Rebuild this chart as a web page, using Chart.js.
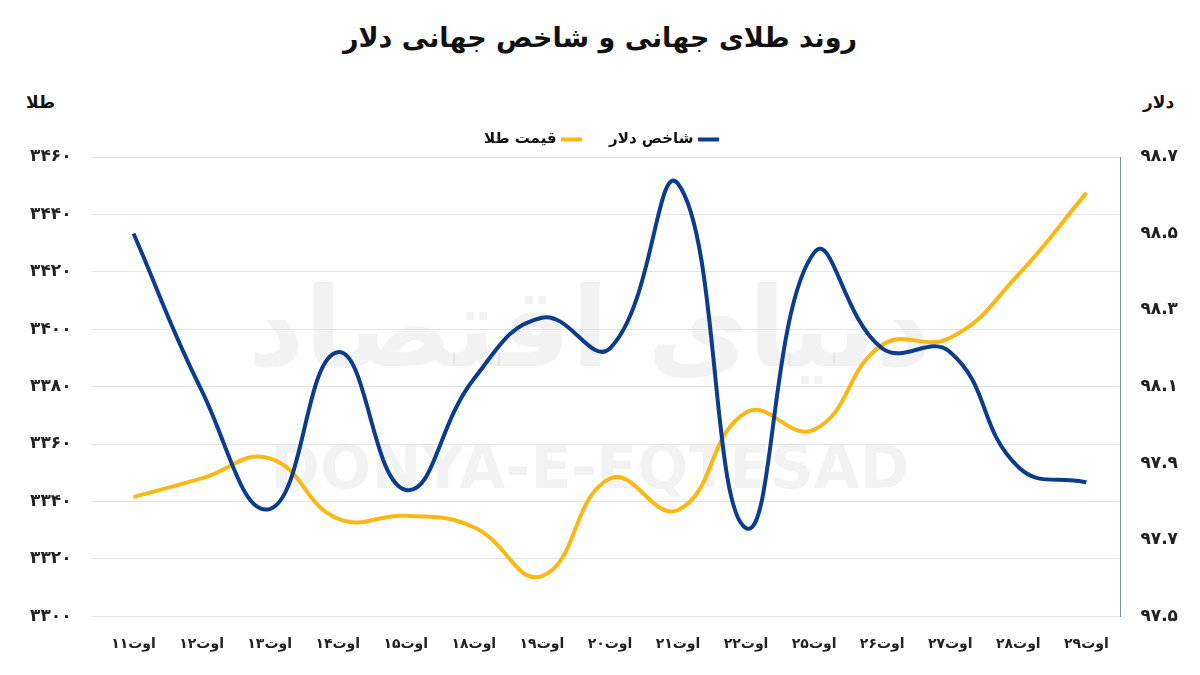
<!DOCTYPE html>
<html>
<head>
<meta charset="utf-8">
<script src="https://cdn.jsdelivr.net/npm/chart.js@4"></script>
<style>
  body { margin: 0; background: #fff; }
  #wrap { width: 1200px; height: 675px; position: relative; }
  h1 { position: absolute; top: 22px; left: 0; width: 1200px; text-align: center; margin: 0;
       font: bold 27px "DejaVu Sans", sans-serif; color: #111; direction: rtl; }
  .ax { position: absolute; top: 92px; font: bold 17px "DejaVu Sans", sans-serif; color: #111; }
  #box { position: absolute; left: 0; top: 102px; }
</style>
</head>
<body>
<div id="wrap">
  <h1>روند طلای جهانی و شاخص جهانی دلار</h1>
  <div class="ax" style="left:26px">طلا</div>
  <div class="ax" style="left:1143px">دلار</div>
  <div id="box"><canvas id="chart" width="1200" height="573"></canvas></div>
</div>
<script>
// Data
const dates = ['۱۱اوت', '۱۲اوت', '۱۳اوت', '۱۴اوت', '۱۵اوت', '۱۸اوت', '۱۹اوت', '۲۰اوت',
               '۲۱اوت', '۲۲اوت', '۲۵اوت', '۲۶اوت', '۲۷اوت', '۲۸اوت', '۲۹اوت'];
const goldPrice = [3341.5, 3348, 3355, 3334, 3335, 3331, 3314, 3348, 3337, 3371, 3365, 3394.5, 3397, 3419, 3447.5];
const dollarIndex = [98.50, 98.09, 97.78, 98.19, 97.83, 98.12, 98.28, 98.20, 98.63, 97.73, 98.45, 98.20, 98.19, 97.89, 97.85];

function toPersian(s) {
    return String(s).replace(/[0-9]/g, d => '۰۱۲۳۴۵۶۷۸۹'[d]);
}

// Faint watermark
const watermark = {
    id: 'watermark',
    beforeDraw(chart) {
        const c = chart.ctx;
        c.save();
        c.fillStyle = 'rgba(0,0,0,0.05)';
        c.textAlign = 'center';
        c.font = 'bold 60px "DejaVu Sans", sans-serif';
        c.fillText('DONYA-E-EQTESAD', 590, 370);
        c.font = 'bold 110px "DejaVu Sans", sans-serif';
        c.fillText('دنیای اقتصاد', 590, 235);
        c.restore();
    }
};

new Chart(document.getElementById('chart').getContext('2d'), {
    type: 'line',
    data: {
        labels: dates,
        datasets: [{
            label: 'شاخص دلار',
            data: dollarIndex,
            yAxisID: 'y1',
            borderColor: '#0b3d8c',
            borderWidth: 4,
            tension: 0.45,
            pointRadius: 0
        }, {
            label: 'قیمت طلا',
            data: goldPrice,
            yAxisID: 'y',
            borderColor: '#fbb814',
            borderWidth: 4,
            tension: 0.45,
            pointRadius: 0
        }]
    },
    options: {
        responsive: false,
        animation: false,
        layout: { padding: { left: 10, right: 10, bottom: 10 } },
        plugins: {
            legend: {
                position: 'top',
                rtl: true,
                labels: {
                    usePointStyle: true,
                    pointStyle: 'line',
                    boxWidth: 30,
                    padding: 30,
                    color: '#111',
                    font: { family: 'DejaVu Sans', size: 15, weight: 'bold' }
                }
            }
        },
        scales: {
            x: {
                grid: { display: false },
                border: { display: false },
                offset: true,
                ticks: { color: '#222', padding: 12, font: { family: 'DejaVu Sans', size: 14, weight: 'bold' } }
            },
            y: {
                min: 3300, max: 3460,
                ticks: { stepSize: 20, padding: 20, color: '#222', callback: v => toPersian(v),
                         font: { family: 'DejaVu Sans', size: 17, weight: 'bold' } },
                grid: { color: '#e4e4e4' },
                border: { display: false }
            },
            y1: {
                position: 'right',
                min: 97.5, max: 98.7,
                ticks: { stepSize: 0.2, padding: 12, color: '#222', callback: v => toPersian(v.toFixed(1)),
                         font: { family: 'DejaVu Sans', size: 17, weight: 'bold' } },
                grid: { display: false },
                border: { color: '#7a8fb0' }
            }
        }
    },
    plugins: [watermark]
});
</script>
</body>
</html>
